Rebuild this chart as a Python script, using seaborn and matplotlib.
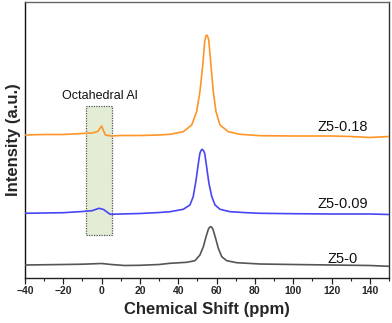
import numpy as np
import pandas as pd
import matplotlib
matplotlib.use("Agg")
import matplotlib.pyplot as plt
import seaborn as sns
from matplotlib.ticker import MultipleLocator

# ---- data ----
ppm_0 = [-40, -20, -10, 0, 5, 12, 20, 30, 35.7, 44.4, 48.7, 51.3, 53.1, 54.5, 55.7,
         56.3, 56.9, 57.5, 58.1, 59.5, 60.9, 62.7, 65.3, 70.5, 82.7, 100, 120, 140, 150]
int_0 = [0, 0.5, 0.8, 1.5, 0.5, -0.5, -0.3, 0.5, 1.7, 2.7, 4.3, 10, 18.3, 28.3, 35.7,
         37.6, 38.3, 37.6, 35.7, 26.7, 16.7, 8.3, 4.3, 2.3, 1, 0.5, 0, -0.5, -1.3]

ppm_009 = [-40, -30, -20, -10, -5, -1.4, 1, 4.4, 10, 20, 30, 35.7, 42.6, 46.1, 47.8,
           49.3, 50.5, 51.3, 51.9, 52.5, 53.1, 53.8, 54.8, 56.0, 57.5, 59.2, 61.8, 67,
           75.7, 82.7, 100, 120, 140, 150]
int_009 = [0.7, 1, 1.3, 2.5, 3.3, 5.7, 4.5, -0.3, 0, 0.5, 1.5, 2.3, 4.7, 9, 17.3,
           34, 50.7, 60.7, 63.6, 64.7, 63.6, 60.7, 47.3, 30.7, 17.3, 9, 4.7, 2.3,
           1.3, 0.7, 0.3, 0, 0, -0.5]

ppm_018 = [-40, -30, -20, -10, -5, -2, 0, 0.8, 2, 5, 10, 20, 30, 35.7, 42.6, 47, 49.6,
           51.3, 52.8, 53.8, 54.3, 54.8, 55.3, 55.9, 56.9, 58.3, 59.7, 61.8, 66.1, 72.2,
           82.7, 100, 120, 130, 140, 150]
int_018 = [0, 0.5, 0.5, 1.5, 2, 3.5, 9, 5, 0, -1, -0.5, -0.5, 0, 0.7, 3.3, 10, 23.3,
           43.3, 70, 93.3, 98.3, 100, 98.8, 95, 73.3, 43.3, 23.3, 10, 3.3, 0.7,
           -0.7, -1, -1, -1.5, -2.5, -1.5]

labels = ["Z5-0", "Z5-0.09", "Z5-0.18"]
offsets = [13, 64, 143]
colors = ["#555555", "#4646f5", "#ff9428"]

box_ppm = (-8.2, 5.4)
box_int = (43, 172)

frames = []
for lab, x, y, off in zip(labels, [ppm_0, ppm_009, ppm_018],
                          [int_0, int_009, int_018], offsets):
    frames.append(pd.DataFrame({"ppm": x, "intensity": np.array(y) + off, "sample": lab}))
df = pd.concat(frames, ignore_index=True)

sns.set_theme(style="white")
plt.rcParams["font.family"] = ["Liberation Sans", "DejaVu Sans"]

fig = plt.figure(figsize=(3.92, 3.23), dpi=100)
ax = fig.add_axes([25 / 392, 1 - 278 / 323, 364 / 392, 276 / 323])

ax.axvspan(box_ppm[0], box_ppm[1], ymin=box_int[0] / 276, ymax=box_int[1] / 276,
           facecolor="#e3edd5", edgecolor="#555555", linestyle=(0, (1, 1)),
           linewidth=0.9, zorder=1)

sns.lineplot(data=df, x="ppm", y="intensity", hue="sample", palette=dict(zip(labels, colors)),
             hue_order=labels, linewidth=1.2, ax=ax, legend=False, zorder=3, sort=True)

ax.text(-0.8, 182, "Octahedral Al", ha="center", va="center", fontsize=9, color="#111111")
label_pos = [(343, 19), (343, 74), (343, 151)]
for lab, (px, yy) in zip(labels, label_pos):
    xx = (px - 25) * 190 / 364 - 40
    ax.text(xx, yy, lab, ha="center", va="center", fontsize=10.5, color="#111111")

ax.set_xlim(-40, 150)
ax.set_ylim(0, 276)
ax.set_yticks([])
ax.xaxis.set_major_locator(MultipleLocator(20))
ax.xaxis.set_minor_locator(MultipleLocator(10))
ax.tick_params(axis="x", which="major", direction="out", length=4, width=0.9,
               color="#222222", labelsize=7.5, pad=2, bottom=True)
ax.tick_params(axis="x", which="minor", direction="out", length=2, width=0.8,
               color="#222222", bottom=True)
for t in ax.get_xticklabels():
    t.set_fontweight("bold")

ax.set_xlabel("Chemical Shift (ppm)", fontsize=12, fontweight="bold", labelpad=4)
ax.set_ylabel("Intensity (a.u.)", fontsize=12, fontweight="bold", labelpad=3)

for side, col in [("left", "#111111"), ("bottom", "#222222"), ("right", "#333333"), ("top", "#666666")]:
    ax.spines[side].set_visible(True)
    ax.spines[side].set_color(col)
    ax.spines[side].set_linewidth(1.0)

fig.savefig("out.png", dpi=100, facecolor="white")
